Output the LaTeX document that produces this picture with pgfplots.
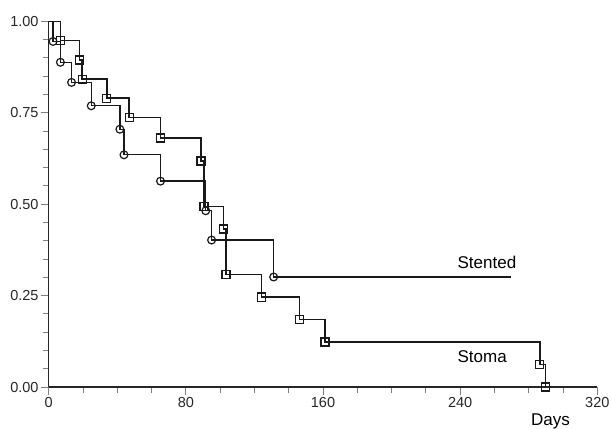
\documentclass[border=0pt]{standalone}
\usepackage{fontspec}
\setmainfont{Liberation Sans}
\usepackage{pgfplots}
\usepackage{pgfplotstable}
\pgfplotsset{compat=1.18}
\usetikzlibrary{calc}

% Kaplan-Meier steps: day, survival
\pgfplotstableread{
t s
0 1
2.5 0.945
6.8 0.888
13.3 0.833
24.8 0.769
41.5 0.705
43.9 0.635
65.2 0.563
91.6 0.482
95.0 0.402
131.2 0.301
269.6 0.301
}\stented

\pgfplotstableread{
t s
0 1
6.8 0.947
17.9 0.894
19.5 0.842
33.9 0.790
46.9 0.737
65.1 0.681
88.8 0.618
90.6 0.4945
102.0 0.432
103.4 0.308
124.0 0.246
146.4 0.184
161.2 0.123
286.5 0.061
289.6 0
}\stoma

\begin{document}
\begin{tikzpicture}
\begin{axis}[
  scale only axis, width=548pt, height=365.4pt,
  xmin=0, xmax=320, ymin=0, ymax=1,
  axis lines=left,
  axis line style={-, line width=1.3pt, black!85},
  xtick={0,80,160,240,320},
  ytick={0,0.25,0.5,0.75,1},
  minor xtick={20,40,60,100,120,140,180,200,220,260,280,300},
  minor ytick={0.05,0.1,0.15,0.2,0.3,0.35,0.4,0.45,0.55,0.6,0.65,0.7,0.8,0.85,0.9,0.95},
  tick align=outside,
  major tick length=8pt, minor tick length=6pt,
  tick style={line width=0.9pt, black!50},
  /pgf/number format/assume math mode=true,
  tick label style={font=\fontsize{14.5}{16}\selectfont, inner sep=0pt, text=black!85},
  xticklabel style={yshift=-2pt},
  yticklabel style={xshift=-2pt, /pgf/number format/fixed,
    /pgf/number format/fixed zerofill, /pgf/number format/precision=2},
  xlabel={Days},
  xlabel style={at={(rel axis cs:0.9147,0)}, anchor=north, inner sep=0pt,
    yshift=-26pt, font=\fontsize{17}{20}\selectfont},
  clip=false,
]
\addplot[const plot, black!90, line width=1.35pt] table[x=t, y=s] {\stented};
\addplot[only marks, mark=o, mark size=3.9pt, black!90, line width=1.2pt,
  skip coords between index={0}{1}, skip coords between index={11}{12}]
  table[x=t, y=s] {\stented};
\addplot[const plot, black!90, line width=1.35pt] table[x=t, y=s] {\stoma};
\addplot[only marks, mark=square, mark size=4pt, black!90, line width=1.2pt,
  skip coords between index={0}{1}]
  table[x=t, y=s] {\stoma};
\node[anchor=west, inner sep=0pt, font=\fontsize{17}{20}\selectfont]
  at (axis cs:238.4,0.342) {Stented};
\node[anchor=west, inner sep=0pt, font=\fontsize{17}{20}\selectfont]
  at (axis cs:238.4,0.082) {Stoma};
\end{axis}
\pgfresetboundingbox
\path[use as bounding box] ($(current axis.south west)+(-48.7pt,-41.3pt)$)
  rectangle ($(current axis.north east)+(13.7pt,21.3pt)$);
\end{tikzpicture}
\end{document}
